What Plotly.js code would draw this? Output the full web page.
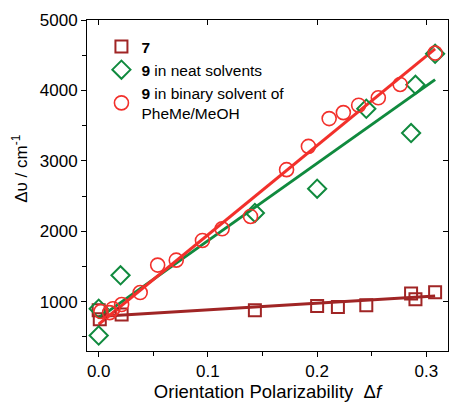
<!DOCTYPE html>
<html>
<head>
<meta charset="utf-8">
<script src="https://cdn.plot.ly/plotly-3.0.1.min.js"></script>
<style>html,body{margin:0;padding:0;background:#fff;}#chart{width:449px;height:402px;}</style>
</head>
<body>
<div id="chart"></div>
<script>
// Compound 7
const x7 = [0.000, 0.001, 0.021, 0.143, 0.200, 0.219, 0.245, 0.286, 0.290, 0.308];
const y7 = [880, 750, 820, 880, 940, 925, 950, 1115, 1035, 1135];
// Compound 9 in neat solvents
const x9n = [0.000, 0.000, 0.020, 0.143, 0.200, 0.245, 0.286, 0.290, 0.308];
const y9n = [520, 900, 1375, 2260, 2605, 3740, 3395, 4080, 4520];
// Compound 9 in binary solvent PheMe/MeOH
const x9b = [0.002, 0.010, 0.013, 0.021, 0.038, 0.054, 0.071, 0.095, 0.113, 0.139, 0.172, 0.192, 0.211, 0.224, 0.238, 0.256, 0.276, 0.308];
const y9b = [860, 845, 900, 960, 1130, 1520, 1590, 1870, 2035, 2210, 2875, 3205, 3600, 3685, 3790, 3895, 4085, 4530];
// Linear fits (endpoints)
const fit7X = [0.000, 0.308];
const fit7Y = [790, 1080];
const fit9nX = [0.000, 0.308];
const fit9nY = [767, 4153];
const fit9bX = [0.000, 0.308];
const fit9bY = [680, 4590];

const cBrown = '#a02525';
const cGreen = '#108a3e';
const cRed = '#f2302b';
const font = 'Arial, "Liberation Sans", sans-serif';

const data = [
  {x: fit7X, y: fit7Y, mode: 'lines', line: {color: cBrown, width: 3}, showlegend: false, hoverinfo: 'skip'},
  {x: fit9nX, y: fit9nY, mode: 'lines', line: {color: cGreen, width: 3}, showlegend: false, hoverinfo: 'skip'},
  {x: fit9bX, y: fit9bY, mode: 'lines', line: {color: cRed, width: 3}, showlegend: false, hoverinfo: 'skip'},
  {x: x7, y: y7, mode: 'markers', name: '<b>7</b>',
   marker: {symbol: 'square-open', size: 12, color: cBrown, line: {width: 2, color: cBrown}}},
  {x: x9n, y: y9n, mode: 'markers', name: '<b>9</b> in neat solvents',
   marker: {symbol: 'diamond-open', size: 14, color: cGreen, line: {width: 2, color: cGreen}}},
  {x: x9b, y: y9b, mode: 'markers', name: '<b>9</b> in binary solvent of<br>PheMe/MeOH',
   marker: {symbol: 'circle-open', size: 14, color: cRed, line: {width: 1.6, color: cRed}}},
  {x: [0.1], y: [1000], xaxis: 'x2', yaxis: 'y2', mode: 'markers', marker: {opacity: 0}, showlegend: false, hoverinfo: 'skip'}
];

const xr = [-0.0107, 0.3198];
const yr = [300, 5000];

const layout = {
  width: 449, height: 402,
  margin: {l: 87, r: 1, t: 20, b: 51},
  paper_bgcolor: '#fff', plot_bgcolor: '#fff',
  font: {family: font, size: 17, color: '#000'},
  showlegend: true,
  legend: {x: 0.04, y: 0.97, xanchor: 'left', yanchor: 'top', bgcolor: 'rgba(0,0,0,0)',
           font: {family: font, size: 15.5, color: '#000'}, tracegroupgap: 0},
  xaxis: {range: xr, showgrid: false, zeroline: false, showline: true, linecolor: '#000', linewidth: 1,
          ticks: 'outside', ticklen: 5, tickwidth: 1, tickcolor: '#000', dtick: 0.1, tick0: 0, tickformat: '.1f',
          minor: {dtick: 0.05, tick0: 0, ticks: 'outside', ticklen: 4, tickcolor: '#000', showgrid: false},
          title: {text: 'Orientation Polarizability  Δ<i>f</i>', font: {family: font, size: 18.5}, standoff: 4}},
  yaxis: {range: yr, showgrid: false, zeroline: false, showline: true, linecolor: '#000', linewidth: 1,
          ticks: 'outside', ticklen: 5, tickwidth: 1, tickcolor: '#000', dtick: 1000, tick0: 0,
          minor: {dtick: 500, tick0: 0, ticks: 'outside', ticklen: 4, tickcolor: '#000', showgrid: false}},
  xaxis2: {range: xr, overlaying: 'x', side: 'top', anchor: 'y2', showgrid: false, zeroline: false,
           showline: true, linecolor: '#000', linewidth: 1, ticks: 'inside', ticklen: 5, tickcolor: '#000',
           dtick: 0.1, tick0: 0, showticklabels: false},
  yaxis2: {range: yr, overlaying: 'y', side: 'right', anchor: 'x2', showgrid: false, zeroline: false,
           showline: true, linecolor: '#000', linewidth: 1, ticks: 'inside', ticklen: 5, tickcolor: '#000',
           dtick: 1000, tick0: 0, showticklabels: false},
  annotations: [{text: 'Δυ / cm<sup>-1</sup>', xref: 'paper', yref: 'paper', x: -0.186, y: 0.55,
                 xanchor: 'center', yanchor: 'middle', textangle: -90, showarrow: false,
                 font: {family: font, size: 17, color: '#000'}}]
};

Plotly.newPlot('chart', data, layout, {displayModeBar: false, staticPlot: true});
</script>
</body>
</html>
